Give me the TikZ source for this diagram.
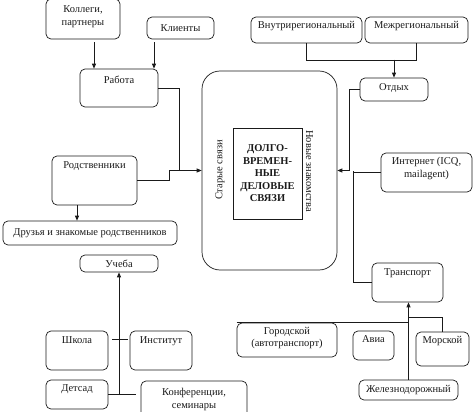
\documentclass[tikz,border=0pt]{standalone}
\usepackage{fontspec}
\setmainfont{Liberation Serif}
\usetikzlibrary{arrows.meta}

\tikzstyle{box}=[draw, rounded corners=5pt, line width=0.7pt, inner sep=2pt, align=center]
\tikzstyle{link}=[line width=0.8pt]
\tikzstyle{link-arrow}=[link, -{Triangle[length=5pt, width=4pt]}]
\definecolor{linecolor}{HTML}{1a1a1a}

\begin{document}
\begin{tikzpicture}[x=1pt, y=-1pt, color=linecolor,
    every node/.style={font=\fontsize{10.5}{12.5}\selectfont}]
  \useasboundingbox (0,0) rectangle (474,412);

  \node (main) at (269.5, 170.5)
        [draw, rounded corners=18pt, line width=0.7pt, minimum width=135pt, minimum height=199pt] {};
  \node (core) at (267.5, 173.5)
        [draw, line width=0.7pt, minimum width=69pt, minimum height=91pt, align=center,
         font=\fontsize{10.5}{12.5}\selectfont\bfseries] {ДОЛГО-\\ВРЕМЕН-\\НЫЕ\\ДЕЛОВЫЕ\\СВЯЗИ};
  \node (old) at (220, 170) [rotate=90] {Старые связи};
  \node (new) at (309.5, 171) [rotate=-90] {Новые знакомства};

  \node (kollegi) at (83, 19) [box, minimum width=74pt, minimum height=40pt, text depth=7pt] {Коллеги,\\партнеры};
  \node (clients) at (180.5, 28) [box, minimum width=67pt, minimum height=22pt] {Клиенты};
  \node (work) at (119, 88) [box, minimum width=78pt, minimum height=38pt, text depth=16pt] {Работа};
  \node (rel) at (94.5, 180.5) [box, minimum width=85pt, minimum height=49pt, text depth=31pt] {Родственники};
  \node (friends) at (90, 233) [box, minimum width=174pt, minimum height=24pt] {Друзья и знакомые родственников};
  \node (study) at (119, 263.5) [box, minimum width=78pt, minimum height=17pt] {Учеба};
  \node (school) at (77, 350.5) [box, minimum width=62pt, minimum height=39pt, text depth=21pt] {Школа};
  \node (inst) at (161, 350.5) [box, minimum width=62pt, minimum height=39pt, text depth=21pt] {Институт};
  \node (kinder) at (77, 394.5) [box, minimum width=62pt, minimum height=29pt, text depth=13pt] {Детсад};
  \node (conf) at (194, 399.5) [box, minimum width=106pt, minimum height=37pt] {Конференции,\\семинары};

  \node (inner) at (306.5, 30) [box, minimum width=111pt, minimum height=26pt, text depth=10pt] {Внутрирегиональный};
  \node (inter) at (416.5, 30) [box, minimum width=103pt, minimum height=26pt, text depth=10pt] {Межрегиональный};
  \node (rest) at (394, 89.5) [box, minimum width=68pt, minimum height=23pt, text depth=5pt] {Отдых};
  \node (inet) at (426.5, 172.5) [box, minimum width=91pt, minimum height=39pt, text depth=10pt] {Интернет (ICQ,\\mailagent)};
  \node (trans) at (407.5, 282.5) [box, minimum width=71pt, minimum height=39pt, text depth=21pt] {Транспорт};
  \node (city) at (287, 340) [box, minimum width=100pt, minimum height=34pt, text depth=6pt] {Городской\\(автотранспорт)};
  \node (avia) at (373.5, 345.5) [box, minimum width=41pt, minimum height=29pt, text depth=13pt] {Авиа};
  \node (sea) at (442.5, 349) [box, minimum width=53pt, minimum height=34pt, text depth=18pt] {Морской};
  \node (rail) at (408.5, 390) [box, minimum width=99pt, minimum height=20pt] {Железнодорожный};

  \draw[link-arrow, shorten <=3pt] ([xshift=11pt]kollegi.south) -- ([xshift=11pt]kollegi.south |- work.north);
  \draw[link-arrow, shorten <=3pt] ([xshift=-26.5pt]clients.south) -- ([xshift=-26.5pt]clients.south |- work.north);
  \draw[link] (work.east) -| ([xshift=-22pt]main.west);
  \draw[link-arrow] (rel.east) -| ([xshift=-32pt]main.west) -- (main.west);
  \draw[link-arrow] ([xshift=-17.5pt]rel.south) -- ([xshift=-17.5pt]rel.south |- friends.north);

  \draw[link, shorten >=5pt] (kinder.east) -- (kinder.east -| conf.west);
  \draw[link-arrow] (kinder.east -| study.south) -- (study.south);
  \draw[link, shorten <=4pt, shorten >=2pt] ([yshift=11.5pt]school.east) -- ([yshift=11.5pt]school.east -| inst.west);

  \draw[link] (inner.south) -- ++(0,17) -| (inter.south);
  \draw[link-arrow] ([yshift=18pt]rest.north) -- (rest.north);
  \draw[link-arrow] (rest.west) -| ([xshift=12pt]main.east) -- (main.east);
  \draw[link] (inet.west) -| ([xshift=16pt]main.east);
  \draw[link] (trans.west) -| ([xshift=16pt]main.east);

  \draw[link-arrow] (rail.north) -- (rail.north |- trans.south);
  \draw[link] (city.north west) -- (city.north west -| rail.north);
  \draw[link] (sea.north) |- ([yshift=-15pt]trans.south -| rail.north);
\end{tikzpicture}
\end{document}
